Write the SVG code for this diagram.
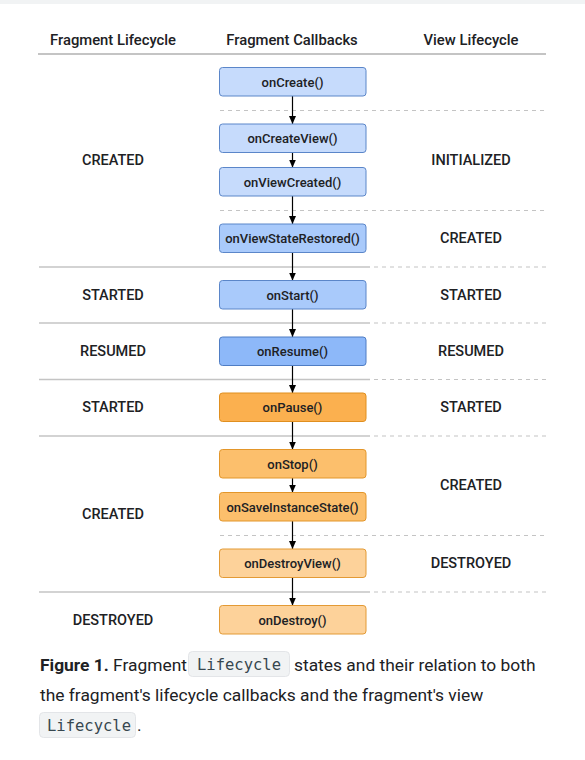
<svg xmlns="http://www.w3.org/2000/svg" width="585" height="760" viewBox="0 0 585 760">
<style>
.hdr{font-family:Roboto,"Liberation Sans",sans-serif;font-size:14.8px;font-weight:500;fill:#202124;text-anchor:middle}
.st{font-family:Roboto,"Liberation Sans",sans-serif;font-size:14.5px;font-weight:500;fill:#202124;text-anchor:middle}
.lbl{font-family:Roboto,"Liberation Sans",sans-serif;font-size:13px;font-weight:500;fill:#202124;text-anchor:middle}
.b1{fill:#c6dbfc;stroke:#5b86c9;stroke-width:1}
.b2{fill:#a9cafb;stroke:#5b86c9;stroke-width:1}
.b3{fill:#8db8f9;stroke:#4f7dc4;stroke-width:1}
.o1{fill:#fbb04f;stroke:#e08f1f;stroke-width:1}
.o2{fill:#fcbf6c;stroke:#e3962a;stroke-width:1}
.o3{fill:#fdd29a;stroke:#e39a35;stroke-width:1}
.sol{stroke:#c4c4c4;stroke-width:1.5;fill:none}
.dash{stroke:#c4c4c4;stroke-width:1.2;stroke-dasharray:4 4;fill:none}
.arr{stroke:#000;stroke-width:1.2;fill:none;marker-end:url(#ah)}
.cap{font-family:Roboto,"Liberation Sans",sans-serif;font-size:17.4px;fill:#202124}
.code{font-family:"DejaVu Sans Mono","Liberation Mono",monospace;font-size:15.5px;fill:#37474f}
.cbox{fill:#f1f3f4;stroke:#e3e5e8;stroke-width:1}
</style>
<defs>
<marker id="ah" markerWidth="8" markerHeight="7" refX="8" refY="3.5" orient="auto" markerUnits="userSpaceOnUse" viewBox="0 0 8 7">
<path d="M0,0 L8,3.5 L0,7 Z" fill="#000"/>
</marker>
</defs>
<rect x="0" y="0" width="585" height="4" fill="#f1f3f4"/>
<g id="headers">
<text class="hdr" x="113" y="45">Fragment Lifecycle</text>
<text class="hdr" x="292" y="45">Fragment Callbacks</text>
<text class="hdr" x="471" y="45">View Lifecycle</text>
</g>
<g id="separators">
<line class="sol" x1="38" y1="54" x2="546" y2="54" style="stroke:#b0b0b0"/>
<line class="dash" x1="220" y1="110.5" x2="546" y2="110.5"/>
<line class="dash" x1="220" y1="210.5" x2="546" y2="210.5"/>
<line class="sol" x1="39" y1="267" x2="370" y2="267"/>
<line class="dash" x1="374" y1="267" x2="546" y2="267"/>
<line class="sol" x1="39" y1="323" x2="370" y2="323"/>
<line class="dash" x1="374" y1="323" x2="546" y2="323"/>
<line class="sol" x1="39" y1="379.5" x2="370" y2="379.5"/>
<line class="dash" x1="374" y1="379.5" x2="546" y2="379.5"/>
<line class="sol" x1="39" y1="436" x2="370" y2="436"/>
<line class="dash" x1="374" y1="436" x2="546" y2="436"/>
<line class="dash" x1="220" y1="535.5" x2="546" y2="535.5"/>
<line class="sol" x1="39" y1="592" x2="370" y2="592"/>
<line class="dash" x1="374" y1="592" x2="546" y2="592"/>
</g>
<g id="states">
<text class="st" x="113" y="165">CREATED</text>
<text class="st" x="471" y="165">INITIALIZED</text>
<text class="st" x="471" y="243">CREATED</text>
<text class="st" x="113" y="300">STARTED</text>
<text class="st" x="471" y="300">STARTED</text>
<text class="st" x="113" y="356">RESUMED</text>
<text class="st" x="471" y="356">RESUMED</text>
<text class="st" x="113" y="412">STARTED</text>
<text class="st" x="471" y="412">STARTED</text>
<text class="st" x="113" y="519">CREATED</text>
<text class="st" x="471" y="490">CREATED</text>
<text class="st" x="471" y="568">DESTROYED</text>
<text class="st" x="113" y="625">DESTROYED</text>
</g>
<g id="connectors">
<line class="arr" x1="292.5" y1="96" x2="292.5" y2="124"/>
<line class="arr" x1="292.5" y1="153" x2="292.5" y2="167.5"/>
<line class="arr" x1="292.5" y1="196" x2="292.5" y2="224"/>
<line class="arr" x1="292.5" y1="252.5" x2="292.5" y2="280.5"/>
<line class="arr" x1="292.5" y1="309" x2="292.5" y2="337"/>
<line class="arr" x1="292.5" y1="365.5" x2="292.5" y2="393"/>
<line class="arr" x1="292.5" y1="421.5" x2="292.5" y2="449.5"/>
<line class="arr" x1="292.5" y1="478" x2="292.5" y2="492.5"/>
<line class="arr" x1="292.5" y1="521" x2="292.5" y2="549"/>
<line class="arr" x1="292.5" y1="577.5" x2="292.5" y2="605.5"/>
</g>
<g id="onCreate"><rect class="b1" x="219.5" y="67.5" width="146.5" height="28.5" rx="3"/><text class="lbl" x="292.5" y="86.5">onCreate()</text></g>
<g id="onCreateView"><rect class="b1" x="219.5" y="124" width="146.5" height="28.5" rx="3"/><text class="lbl" x="292.5" y="143">onCreateView()</text></g>
<g id="onViewCreated"><rect class="b1" x="219.5" y="167.5" width="146.5" height="28.5" rx="3"/><text class="lbl" x="292.5" y="186.5">onViewCreated()</text></g>
<g id="onViewStateRestored"><rect class="b2" x="219.5" y="224" width="146.5" height="28.5" rx="3"/><text class="lbl" x="292.5" y="243">onViewStateRestored()</text></g>
<g id="onStart"><rect class="b2" x="219.5" y="280.5" width="146.5" height="28.5" rx="3"/><text class="lbl" x="292.5" y="299.5">onStart()</text></g>
<g id="onResume"><rect class="b3" x="219.5" y="337" width="146.5" height="28.5" rx="3"/><text class="lbl" x="292.5" y="356">onResume()</text></g>
<g id="onPause"><rect class="o1" x="219.5" y="393" width="146.5" height="28.5" rx="3"/><text class="lbl" x="292.5" y="412">onPause()</text></g>
<g id="onStop"><rect class="o2" x="219.5" y="449.5" width="146.5" height="28.5" rx="3"/><text class="lbl" x="292.5" y="468.5">onStop()</text></g>
<g id="onSaveInstanceState"><rect class="o2" x="219.5" y="492.5" width="146.5" height="28.5" rx="3"/><text class="lbl" x="292.5" y="511.5">onSaveInstanceState()</text></g>
<g id="onDestroyView"><rect class="o3" x="219.5" y="549" width="146.5" height="28.5" rx="3"/><text class="lbl" x="292.5" y="568">onDestroyView()</text></g>
<g id="onDestroy"><rect class="o3" x="219.5" y="605.5" width="146.5" height="28.5" rx="3"/><text class="lbl" x="292.5" y="624.5">onDestroy()</text></g>
<g id="caption">
<rect class="cbox" x="188.5" y="651.5" width="101" height="25" rx="4"/>
<rect class="cbox" x="39.5" y="712.5" width="96" height="25" rx="4"/>
<text class="cap" x="40" y="671"><tspan font-weight="bold">Figure 1.</tspan> Fragment</text>
<text class="code" x="197" y="670">Lifecycle</text>
<text class="cap" x="294" y="671">states and their relation to both</text>
<text class="cap" x="40" y="701">the fragment's lifecycle callbacks and the fragment's view</text>
<text class="code" x="47" y="731">Lifecycle</text>
<text class="cap" x="137" y="731">.</text>
</g>
</svg>
